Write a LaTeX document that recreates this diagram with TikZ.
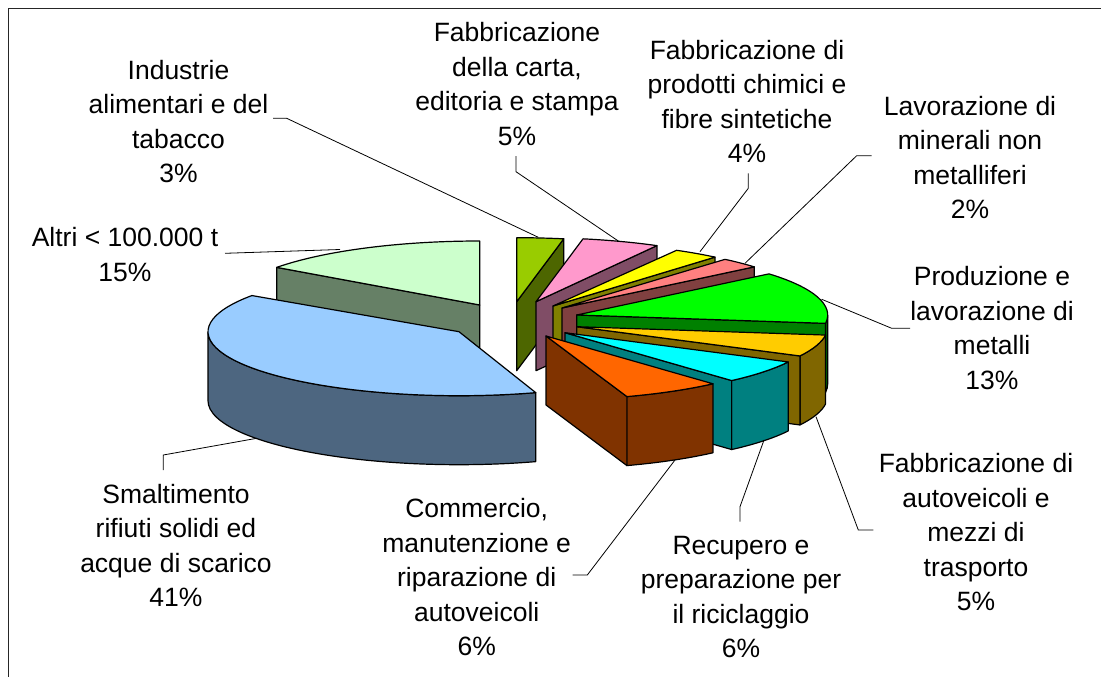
\documentclass[tikz,border=0pt]{standalone}
\usepackage{xcolor}
\usepackage{fontspec}
\setmainfont{Liberation Sans}
\usepackage{tikz}

\definecolor{altritop}{HTML}{CCFFCC}
\definecolor{altriside}{HTML}{668066}
\definecolor{industrietop}{HTML}{99CC00}
\definecolor{industrieside}{HTML}{4D6600}
\definecolor{cartatop}{HTML}{FF99CC}
\definecolor{cartaside}{HTML}{804D66}
\definecolor{chimicitop}{HTML}{FFFF00}
\definecolor{chimiciside}{HTML}{808000}
\definecolor{mineralitop}{HTML}{FF8080}
\definecolor{mineraliside}{HTML}{804040}
\definecolor{metallitop}{HTML}{00FF00}
\definecolor{metalliside}{HTML}{008000}
\definecolor{autotop}{HTML}{FFCC00}
\definecolor{autoside}{HTML}{806600}
\definecolor{recuperotop}{HTML}{00FFFF}
\definecolor{recuperoside}{HTML}{008080}
\definecolor{commerciotop}{HTML}{FF6600}
\definecolor{commercioside}{HTML}{803300}
\definecolor{smaltimentotop}{HTML}{99CCFF}
\definecolor{smaltimentoside}{HTML}{4D6680}

\begin{document}
\begin{tikzpicture}[x=1pt, y=-1pt,
  pieface/.style={draw=black, line width=1.2pt, line join=round},
  rim/.style={x radius=251, y radius=64},
  lbl/.style={align=center, inner sep=0pt, font=\fontsize{26.5}{34.5}\selectfont},
  leaderline/.style={draw=black, line width=0.8pt}]
\useasboundingbox (0,0) rectangle (1101,677);
\draw [black!85, line width=1.6pt] (8.5,677) -- (8.5,8.5) -- (1101,8.5);

\filldraw [pieface, fill=altriside] (479.8,305) -- ++(216:251 and 64) -- ++(0,69) -- (479.8,374) -- cycle;
\filldraw [pieface, fill=altritop] (479.8,305) -- ++(216:251 and 64) arc [rim, start angle=216, end angle=270] -- cycle;

\filldraw [pieface, fill=industrieside] (516.7,301.7) -- ++(280.8:251 and 64) -- ++(0,69) -- (516.7,370.7) -- cycle;
\filldraw [pieface, fill=industrietop] (516.7,301.7) -- ++(270:251 and 64) arc [rim, start angle=270, end angle=280.8] -- cycle;

\filldraw [pieface, fill=cartaside] (536,301.7) -- ++(298.8:251 and 64) -- ++(0,69) -- (536,370.7) -- cycle;
\filldraw [pieface, fill=cartatop] (536,301.7) -- ++(280.8:251 and 64) arc [rim, start angle=280.8, end angle=298.8] -- cycle;

\filldraw [pieface, fill=chimiciside] (553,306) -- ++(310.2:251 and 64) -- ++(0,69) -- (553,375) -- cycle;
\filldraw [pieface, fill=chimicitop] (553,306) -- ++(299.5:251 and 64) arc [rim, start angle=299.5, end angle=310.2] -- cycle;

\filldraw [pieface, fill=mineraliside] (562,308) -- ++(320:251 and 64) -- ++(0,69) -- (562,377) -- cycle;
\filldraw [pieface, fill=mineralitop] (562,308) -- ++(310.5:251 and 64) arc [rim, start angle=310.5, end angle=320] -- cycle;

\filldraw [pieface, fill=metalliside] (576.7,315) ++(360:251 and 64) arc [rim, start angle=360, end angle=367.5] -- ++(0,69) arc [rim, start angle=367.5, end angle=360] -- cycle;
\filldraw [pieface, fill=metalliside] (576.7,315) -- ++(367.5:251 and 64) -- ++(0,69) -- (576.7,384) -- cycle;
\filldraw [pieface, fill=metallitop] (576.7,315) -- ++(320:251 and 64) arc [rim, start angle=320, end angle=367.5] -- cycle;

\filldraw [pieface, fill=autoside] (576.7,326.7) ++(7.5:251 and 64) arc [rim, start angle=7.5, end angle=27.2] -- ++(0,69) arc [rim, start angle=27.2, end angle=7.5] -- cycle;
\filldraw [pieface, fill=autoside] (576.7,326.7) -- ++(27.2:251 and 64) -- ++(0,69) -- (576.7,395.7) -- cycle;
\filldraw [pieface, fill=autotop] (576.7,326.7) -- ++(7.5:251 and 64) arc [rim, start angle=7.5, end angle=27.2] -- cycle;

\filldraw [pieface, fill=recuperoside] (565,332.7) ++(27.2:251 and 64) arc [rim, start angle=27.2, end angle=48.4] -- ++(0,69) arc [rim, start angle=48.4, end angle=27.2] -- cycle;
\filldraw [pieface, fill=recuperoside] (565,332.7) -- ++(48.4:251 and 64) -- ++(0,69) -- (565,401.7) -- cycle;
\filldraw [pieface, fill=recuperotop] (565,332.7) -- ++(27.2:251 and 64) arc [rim, start angle=27.2, end angle=48.4] -- cycle;

\filldraw [pieface, fill=commercioside] (546,336) ++(48.3:251 and 64) arc [rim, start angle=48.3, end angle=71.2] -- ++(0,69) arc [rim, start angle=71.2, end angle=48.3] -- cycle;
\filldraw [pieface, fill=commercioside] (546,336) -- ++(71.2:251 and 64) -- ++(0,69) -- (546,405) -- cycle;
\filldraw [pieface, fill=commerciotop] (546,336) -- ++(48.3:251 and 64) arc [rim, start angle=48.3, end angle=71.2] -- cycle;

\filldraw [pieface, fill=smaltimentoside] (459,331.7) ++(72.2:251 and 64) arc [rim, start angle=72.2, end angle=180] -- ++(0,69) arc [rim, start angle=180, end angle=72.2] -- cycle;
\filldraw [pieface, fill=smaltimentotop] (459,331.7) -- ++(72.2:251 and 64) arc [rim, start angle=72.2, end angle=214.4] -- cycle;

\node (altri) at (125,254.3) [lbl] {Altri < 100.000 t\\15\%};
\node (industrie) at (178.5,121.7) [lbl] {Industrie\\alimentari e del\\tabacco\\3\%};
\node (carta) at (517,84) [lbl] {Fabbricazione\\della carta,\\editoria e stampa\\5\%};
\node (chimici) at (747,101.5) [lbl] {Fabbricazione di\\prodotti chimici e\\fibre sintetiche\\4\%};
\node (minerali) at (970,157.5) [lbl] {Lavorazione di\\minerali non\\metalliferi\\2\%};
\node (metalli) at (992,328) [lbl] {Produzione e\\lavorazione di\\metalli\\13\%};
\node (autoveicoli) at (976,532.5) [lbl] {Fabbricazione di\\autoveicoli e\\mezzi di\\trasporto\\5\%};
\node (recupero) at (741,596.8) [lbl] {Recupero e\\preparazione per\\il riciclaggio\\6\%};
\node (commercio) at (476.7,577.5) [lbl] {Commercio,\\manutenzione e\\riparazione di\\autoveicoli\\6\%};
\node (smaltimento) at (176,545.5) [lbl] {Smaltimento\\rifiuti solidi ed\\acque di scarico\\41\%};

\coordinate (altri-a) at (225,253.3);
\coordinate (altri-tip) at (340,249.5);
\coordinate (industrie-a) at (273,118.3);
\coordinate (industrie-tip) at (538.3,237.3);
\coordinate (carta-a) at (516,156);
\coordinate (carta-tip) at (619.3,241.7);
\coordinate (chimici-a) at (748.3,173.3);
\coordinate (chimici-tip) at (700,251.7);
\coordinate (minerali-a) at (871.7,155.7);
\coordinate (minerali-tip) at (745,263.3);
\coordinate (metalli-a) at (910,328.3);
\coordinate (metalli-tip) at (821.7,299.3);
\coordinate (autoveicoli-a) at (873.3,530);
\coordinate (autoveicoli-tip) at (816,416.7);
\coordinate (recupero-a) at (740,521.7);
\coordinate (recupero-tip) at (764,440);
\coordinate (commercio-a) at (572.7,575);
\coordinate (commercio-tip) at (675,460);
\coordinate (smaltimento-a) at (163.3,470);
\coordinate (smaltimento-tip) at (256.7,438.3);

\draw [leaderline] (altri-a) -- (altri-tip);
\draw [leaderline] (industrie-a) -- ++(13.7,0) -- (industrie-tip);
\draw [leaderline] (carta-a) -- ++(0,15.7) -- (carta-tip);
\draw [leaderline] (chimici-a) -- ++(0,15) -- (chimici-tip);
\draw [leaderline] (minerali-a) -- ++(-15,0) -- (minerali-tip);
\draw [leaderline] (metalli-a) -- ++(-18.3,0) -- (metalli-tip);
\draw [leaderline] (autoveicoli-a) -- ++(-15,0) -- (autoveicoli-tip);
\draw [leaderline] (recupero-a) -- ++(0,-15) -- (recupero-tip);
\draw [leaderline] (commercio-a) -- ++(14.6,0) -- (commercio-tip);
\draw [leaderline] (smaltimento-a) -- ++(0,-15) -- (smaltimento-tip);
\end{tikzpicture}
\end{document}
